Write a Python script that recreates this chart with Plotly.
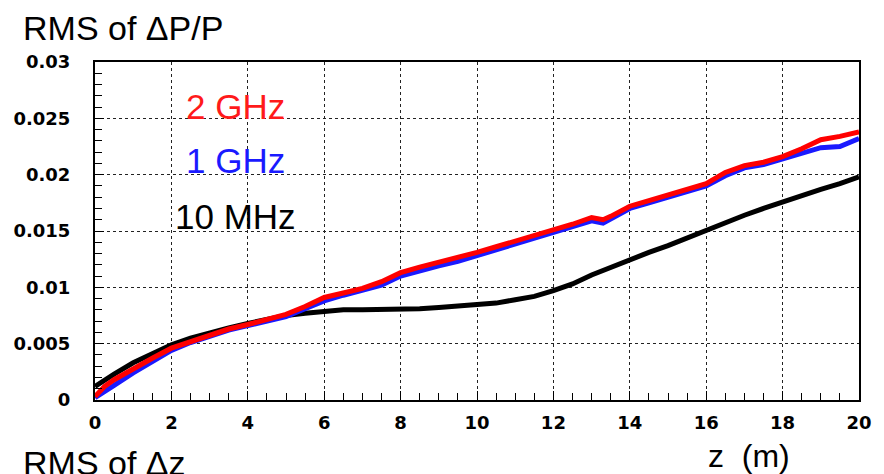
import plotly.graph_objects as go

# ---- data ----
z_grid = [0, 0.25, 0.5, 1, 1.5, 2, 2.5, 3, 3.5, 4, 4.5, 5, 5.5, 6, 6.5, 7, 7.5, 8, 8.5,
          9, 9.5, 10, 10.5, 11, 11.5, 12, 12.5, 13, 13.3, 13.5, 14, 14.5, 15, 15.5, 16,
          16.5, 17, 17.5, 18, 18.5, 19, 19.5, 20]

rms_2ghz = [0.0003, 0.0012, 0.0018, 0.0028, 0.0037, 0.0046, 0.0052, 0.0058, 0.0063, 0.0067,
            0.0071, 0.0076, 0.0083, 0.0091, 0.0095, 0.0099, 0.0105, 0.0113, 0.0118, 0.0122,
            0.0126, 0.0131, 0.0136, 0.0141, 0.0145, 0.0151, 0.0156, 0.0162, 0.0160, 0.0163,
            0.0172, 0.0177, 0.0182, 0.0186, 0.0192, 0.0202, 0.0208, 0.0211, 0.0216, 0.0223,
            0.0231, 0.0234, 0.0238]

rms_1ghz = [0.0002, 0.0008, 0.0013, 0.0024, 0.0034, 0.0044, 0.0051, 0.0057, 0.0062, 0.0066,
            0.0070, 0.0074, 0.0081, 0.0088, 0.0093, 0.0097, 0.0102, 0.0110, 0.0115, 0.0119,
            0.0123, 0.0128, 0.0134, 0.0138, 0.0143, 0.0149, 0.0154, 0.0159, 0.0157, 0.0161,
            0.0170, 0.0175, 0.0180, 0.0185, 0.0190, 0.0199, 0.0206, 0.0209, 0.0214, 0.0220,
            0.0224, 0.0225, 0.0232]

rms_10mhz = [0.0012, 0.0018, 0.0023, 0.0033, 0.0041, 0.0049, 0.0055, 0.0060, 0.0064, 0.0068,
             0.0072, 0.0075, 0.0077, 0.0079, 0.0080, 0.0080, 0.0080, 0.0081, 0.0081, 0.0082,
             0.0083, 0.0084, 0.0086, 0.0089, 0.0092, 0.0097, 0.0103, 0.0111, 0.0115, 0.0118,
             0.0125, 0.0131, 0.0137, 0.0144, 0.0150, 0.0157, 0.0164, 0.0170, 0.0176, 0.0181,
             0.0187, 0.0192, 0.0198]

series_names = ["10 MHz", "1 GHz", "2 GHz"]
series_colors = ["#000000", "#1a1aff", "#ff0000"]

x_ticks = [0, 2, 4, 6, 8, 10, 12, 14, 16, 18, 20]
y_ticks = [0, 0.005, 0.01, 0.015, 0.02, 0.025, 0.03]
y_tick_text = ["0", "0.005", "0.01", "0.015", "0.02", "0.025", "0.03"]

# ---- figure ----
W, H = 884, 474
L, R, T, B = 95, 19, 62, 74
pw, ph = W - L - R, H - T - B


def px(xp):
    return (xp - L) / pw


def py(yp):
    return (H - B - yp) / ph


fig = go.Figure()
for name, col, ys in zip(series_names, series_colors, [rms_10mhz, rms_1ghz, rms_2ghz]):
    fig.add_trace(go.Scatter(x=z_grid, y=ys, mode="lines", name=name,
                             line=dict(color=col, width=5), showlegend=False))

tickfont = dict(family="DejaVu Sans, sans-serif", size=18, color="black", weight="bold")
fig.update_xaxes(range=[0, 20], tickvals=x_ticks, ticks="inside", ticklen=9, tickwidth=1,
                 tickcolor="black", showline=True, linecolor="black", linewidth=2, mirror=True,
                 showgrid=True, gridcolor="#222", gridwidth=1.2, griddash="dot",
                 zeroline=False, tickfont=tickfont, ticklabelstandoff=5,
                 minor=dict(dtick=0.5, ticks="inside", ticklen=7, tickcolor="black", showgrid=False))
fig.update_yaxes(range=[0, 0.03], tickvals=y_ticks, ticktext=y_tick_text, ticks="inside",
                 ticklen=9, tickwidth=1, tickcolor="black", showline=True, linecolor="black",
                 linewidth=2, mirror=True, showgrid=True, gridcolor="#222", gridwidth=1.2,
                 griddash="dot", zeroline=False, tickfont=tickfont, ticklabelstandoff=19,
                 minor=dict(dtick=0.001, ticks="inside", ticklen=7, tickcolor="black", showgrid=False))

txtfont = "Liberation Sans, Arial, sans-serif"
annots = [
    ("RMS of ΔP/P", 20, 28, 34, "black"),
    ("RMS of Δz", 20, 463, 34, "black"),
    ("z  (m)", 711, 456, 32, "black"),
    ("2 GHz", 185, 106, 35, "#ff1a1a"),
    ("1 GHz", 185, 160, 35, "#1a1aff"),
    ("10 MHz", 174, 216, 35, "black"),
]
for text, xp, yp, size, col in annots:
    fig.add_annotation(text=text, x=px(xp), y=py(yp), xref="paper", yref="paper",
                       xanchor="left", yanchor="middle", showarrow=False,
                       font=dict(family=txtfont, size=size, color=col))

fig.update_layout(width=W, height=H, margin=dict(l=L, r=R, t=T, b=B),
                  paper_bgcolor="white", plot_bgcolor="white")

fig.write_html("out.html")
